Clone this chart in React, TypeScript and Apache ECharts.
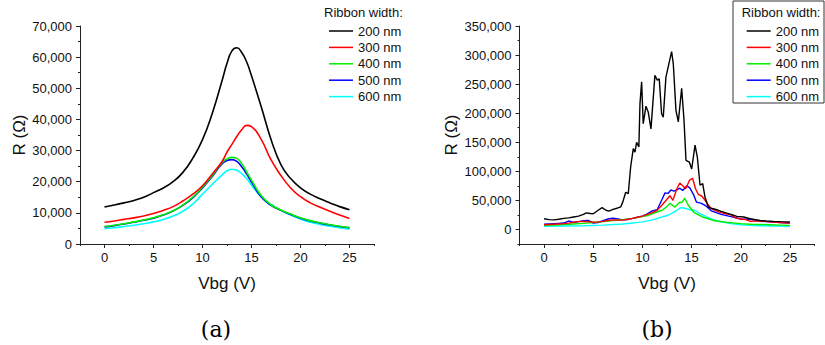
import React, { useEffect, useRef } from "react";
import * as echarts from "echarts";

// ---------- Data ----------
const seriesNames = ["200 nm", "300 nm", "400 nm", "500 nm", "600 nm"];
const seriesColors = ["#000000", "#ff0000", "#00ee00", "#0000ff", "#00ffff"];

// (a) smooth curves, common Vbg grid
const leftVbg = [0, 1, 2, 3, 4, 5, 6, 7, 8, 9, 10, 11, 12, 12.5, 13, 13.5, 14, 14.5, 15, 16, 17, 18, 19, 20, 21, 22, 23, 24, 25];
const leftR200 = [11900, 12500, 13200, 14000, 15000, 16500, 18000, 20000, 23000, 27500, 33500, 42000, 52500, 58000, 62000, 63000, 61500, 58500, 54000, 44000, 33500, 25500, 21000, 18000, 16000, 14500, 13200, 12000, 11000];
const leftR300 = [7000, 7400, 7900, 8400, 9000, 9800, 10800, 12000, 13800, 16000, 18700, 22500, 26500, 29500, 32000, 34500, 36700, 38100, 37700, 33500, 27000, 22000, 18000, 15200, 13200, 11800, 10500, 9300, 8200];
const leftR400 = [5600, 6000, 6500, 7100, 7700, 8400, 9400, 10700, 12500, 15000, 18300, 22000, 26200, 27300, 27800, 27500, 25800, 23200, 20500, 15500, 12600, 10900, 9600, 8400, 7500, 6800, 6200, 5700, 5300];
const leftR500 = [5500, 5900, 6400, 7000, 7600, 8300, 9300, 10600, 12400, 14800, 18000, 21700, 25800, 26800, 27100, 26500, 24800, 22500, 19900, 15100, 12400, 10800, 9500, 8300, 7400, 6700, 6100, 5600, 5200];
const leftR600 = [4900, 5200, 5600, 6000, 6500, 7100, 7900, 9000, 10500, 12800, 16000, 19200, 22200, 23500, 24000, 23700, 22600, 21000, 18900, 15100, 12700, 10800, 9300, 8000, 7000, 6300, 5700, 5200, 4800];

// (b) noisy curves
const rightVbg200 = [0, 0.5, 1, 1.5, 2, 2.5, 3, 3.5, 4, 4.3, 4.7, 5, 5.5, 5.9, 6.3, 6.6, 7, 7.5, 7.8, 8, 8.3, 8.56, 8.8, 9.07, 9.24, 9.41, 9.64, 9.75, 9.92, 10.08, 10.36, 10.59, 10.87, 11.27, 11.51, 11.71, 11.95, 12.12, 12.39, 12.73, 12.97, 13.14, 13.41, 13.65, 13.99, 14.23, 14.43, 14.77, 15.01, 15.35, 15.58, 15.86, 16.13, 16.36, 16.7, 17.1, 17.56, 18, 18.57, 19.1, 19.6, 20.3, 20.95, 21.5, 21.97, 22.6, 23.3, 24.1, 25];
const rightR200 = [18500, 17000, 16500, 17500, 19000, 20000, 21500, 23000, 26000, 28500, 27500, 27000, 33000, 37500, 33000, 31500, 34500, 37000, 39000, 47000, 64000, 61500, 107000, 139000, 133000, 150000, 142000, 216000, 254000, 182000, 212000, 202000, 173000, 265000, 257000, 259000, 199000, 193000, 262000, 288000, 306000, 285000, 205000, 185000, 243000, 188000, 119000, 116000, 104000, 145000, 125000, 76000, 79000, 56000, 38500, 36000, 34000, 31000, 28000, 25500, 22500, 21500, 18500, 17000, 15500, 14500, 14000, 13500, 13000];

const rightVbg300 = [0, 0.5, 1, 1.5, 2, 2.5, 3, 3.5, 4, 4.5, 5, 5.5, 6, 6.5, 7, 7.5, 8, 8.5, 9, 9.5, 10, 10.5, 11, 11.5, 12, 12.5, 12.8, 13.1, 13.5, 13.8, 14.1, 14.4, 14.8, 15.1, 15.4, 15.7, 16, 16.3, 16.7, 17, 17.5, 18, 18.5, 19, 19.5, 20, 20.5, 21, 22, 23, 24, 25];
const rightR300 = [8000, 8500, 9000, 9500, 10000, 11000, 12500, 13500, 14000, 13500, 12500, 13000, 14000, 15500, 16500, 16000, 16000, 17500, 19000, 21000, 23000, 26000, 29000, 33000, 42000, 52000, 58000, 50000, 70000, 80000, 75000, 70000, 85000, 88000, 70000, 60000, 58000, 52000, 42000, 36000, 32000, 29000, 27000, 25000, 20000, 18000, 17000, 14000, 15000, 13000, 12000, 11000];

const rightVbg400 = [0, 1, 2, 3, 4, 5, 6, 7, 8, 9, 10, 10.5, 11, 11.5, 12, 12.4, 12.8, 13.3, 13.8, 14, 14.3, 14.65, 15.2, 15.6, 16.2, 17.2, 18.5, 20, 21, 22, 23, 24, 25];
const rightR400 = [7000, 7500, 8500, 9500, 10500, 12000, 13500, 15500, 17000, 19000, 22000, 24000, 27000, 30000, 33000, 38000, 45000, 38500, 47000, 46000, 54000, 42000, 30000, 26000, 21000, 15500, 12500, 10000, 9000, 8500, 8000, 7500, 7000];

const rightVbg500 = [0, 0.5, 1, 1.5, 2, 2.5, 3, 3.5, 4, 4.5, 5, 5.5, 6, 6.5, 7, 7.5, 8, 8.5, 9, 9.5, 10, 10.5, 11, 11.5, 12, 12.3, 12.6, 12.9, 13.2, 13.5, 13.8, 14.1, 14.5, 14.8, 15.2, 15.5, 16, 16.5, 17, 17.5, 18, 19, 20, 21, 22, 23, 24, 25];
const rightR500 = [9000, 9500, 10000, 10500, 11000, 14500, 12000, 13500, 15000, 15500, 11000, 12000, 15000, 18000, 19500, 18000, 16500, 17000, 19000, 21000, 23000, 27000, 32000, 34000, 52000, 63000, 62000, 68000, 66000, 68000, 71000, 67000, 75000, 72000, 60000, 47000, 45000, 40000, 32000, 29000, 26000, 22000, 18000, 17500, 14000, 13000, 12000, 11000];

const rightVbg600 = [0, 2, 4, 6, 8, 9, 10, 11, 12, 12.5, 13, 13.5, 13.9, 14.3, 14.8, 15.3, 15.9, 16.5, 17, 18, 19, 20, 21, 22, 25];
const rightR600 = [5500, 6000, 6500, 7500, 9500, 11000, 13000, 16500, 21500, 24000, 28000, 33000, 37500, 36500, 34000, 33000, 27000, 22000, 18000, 13000, 10000, 8000, 7000, 6500, 5500];

const xMajor = [0, 5, 10, 15, 20, 25];
const xMinor = [-2.5, 2.5, 7.5, 12.5, 17.5, 22.5, 27.5];
const rightYMajor = [0, 50000, 100000, 150000, 200000, 250000, 300000, 350000];
const rightYMinor = [-25000, 25000, 75000, 125000, 175000, 225000, 275000, 325000];

const legendTitle = "Ribbon width:";
const xName = "Vbg (V)";
const yName = "R (\u03A9)";
const captions = ["(a)", "(b)"];

// ---------- Helpers ----------
const FONT = "'Liberation Sans', Arial, sans-serif";
const TXT = "#111";
const AX = "#222";

const zip = (xs: number[], ys: number[]) => xs.map((x, i) => [x, ys[i]]);
const fmt = (v: number) => v.toLocaleString("en-US");

export default function App() {
  const ref = useRef<HTMLDivElement>(null);

  useEffect(() => {
    document.body.style.margin = "0";
    if (!ref.current) return;
    const chart = echarts.init(ref.current, undefined, { renderer: "svg" });

    const leftData = [leftR200, leftR300, leftR400, leftR500, leftR600];
    const rightX = [rightVbg200, rightVbg300, rightVbg400, rightVbg500, rightVbg600];
    const rightY = [rightR200, rightR300, rightR400, rightR500, rightR600];

    const labelStyle = { color: TXT, fontFamily: FONT, fontSize: 13 };
    const nameStyle = { color: TXT, fontFamily: FONT, fontSize: 17 };

    const mainX = (gridIndex: number) => ({
      type: "value",
      gridIndex,
      position: "bottom",
      min: -2.5,
      max: 27.5,
      name: xName,
      nameLocation: "middle",
      nameGap: 31,
      nameTextStyle: nameStyle,
      splitLine: { show: false },
      axisLine: { show: true, onZero: false, lineStyle: { color: AX, width: 1 } },
      axisTick: { show: true, length: 4, customValues: xMajor, lineStyle: { color: AX } },
      axisLabel: { show: true, margin: 7, customValues: xMajor, ...labelStyle },
    });
    const minorX = (gridIndex: number) => ({
      type: "value",
      gridIndex,
      position: "bottom",
      min: -2.5,
      max: 27.5,
      splitLine: { show: false },
      axisLine: { show: false, onZero: false },
      axisTick: { show: true, length: 2, customValues: xMinor, lineStyle: { color: AX } },
      axisLabel: { show: false },
    });

    const legendCommon = {
      orient: "vertical",
      itemWidth: 24,
      itemHeight: 1.5,
      itemGap: 2.4,
      icon: "rect",
      selectedMode: false,
      textStyle: { color: TXT, fontFamily: FONT, fontSize: 13, lineHeight: 14 },
      data: seriesNames,
    };

    const series: any[] = [];
    seriesNames.forEach((name, i) => {
      series.push({
        type: "line",
        name,
        xAxisIndex: 0,
        yAxisIndex: 0,
        data: zip(leftVbg, leftData[i]),
        smooth: true,
        showSymbol: false,
        symbol: "none",
        lineStyle: { color: seriesColors[i], width: 1.6 },
        itemStyle: { color: seriesColors[i] },
        z: 10 - i,
      });
    });
    seriesNames.forEach((name, i) => {
      series.push({
        type: "line",
        name,
        xAxisIndex: 2,
        yAxisIndex: 1,
        data: zip(rightX[i], rightY[i]),
        smooth: false,
        showSymbol: false,
        symbol: "none",
        lineStyle: { color: seriesColors[i], width: 1.4 },
        itemStyle: { color: seriesColors[i] },
        z: 10 - i,
      });
    });

    chart.setOption({
      animation: false,
      backgroundColor: "#ffffff",
      grid: [
        { left: 80, top: 26, width: 294, height: 218 },
        { left: 519.5, top: 26, width: 295, height: 218 },
      ],
      xAxis: [mainX(0), minorX(0), mainX(1), minorX(1)],
      yAxis: [
        {
          type: "value",
          gridIndex: 0,
          position: "left",
          min: 0,
          max: 70000,
          interval: 10000,
          name: yName,
          nameLocation: "middle",
          nameGap: 52,
          nameTextStyle: nameStyle,
          splitLine: { show: false },
          axisLine: { show: true, onZero: false, lineStyle: { color: AX, width: 1 } },
          axisTick: { show: true, length: 4, lineStyle: { color: AX } },
          minorTick: { show: true, splitNumber: 2, length: 2, lineStyle: { color: AX } },
          axisLabel: { margin: 8, formatter: (v: number) => fmt(v), ...labelStyle },
        },
        {
          type: "value",
          gridIndex: 1,
          position: "left",
          min: -25000,
          max: 350000,
          name: yName,
          nameLocation: "middle",
          nameGap: 60,
          nameTextStyle: nameStyle,
          splitLine: { show: false },
          axisLine: { show: true, onZero: false, lineStyle: { color: AX, width: 1 } },
          axisTick: { show: true, length: 4, customValues: rightYMajor, lineStyle: { color: AX } },
          axisLabel: { margin: 8, customValues: rightYMajor, formatter: (v: number) => fmt(v), ...labelStyle },
        },
        {
          type: "value",
          gridIndex: 1,
          position: "left",
          min: -25000,
          max: 350000,
          splitLine: { show: false },
          axisLine: { show: false, onZero: false },
          axisTick: { show: true, length: 2, customValues: rightYMinor, lineStyle: { color: AX } },
          axisLabel: { show: false },
        },
      ],
      legend: [
        { ...legendCommon, left: 324, top: 19 },
        { ...legendCommon, left: 741.7, top: 19 },
      ],
      graphic: [
        {
          type: "rect",
          shape: { x: 733, y: 1, width: 91, height: 102 },
          style: { fill: "#ffffff", stroke: "#333", lineWidth: 1 },
          z: -1,
          silent: true,
        },
        {
          type: "text",
          x: 324,
          y: 12.5,
          style: { text: legendTitle, fill: TXT, font: `13px ${FONT}`, verticalAlign: "middle" },
        },
        {
          type: "text",
          x: 741.7,
          y: 12.5,
          style: { text: legendTitle, fill: TXT, font: `13px ${FONT}`, verticalAlign: "middle" },
        },
        {
          type: "text",
          x: 216,
          y: 329,
          style: { text: captions[0], fill: "#000", font: "22px 'DejaVu Serif', serif", align: "center", verticalAlign: "middle" },
        },
        {
          type: "text",
          x: 657,
          y: 329,
          style: { text: captions[1], fill: "#000", font: "22px 'DejaVu Serif', serif", align: "center", verticalAlign: "middle" },
        },
      ],
      series,
    });

    return () => chart.dispose();
  }, []);

  return <div ref={ref} style={{ width: 825, height: 345 }} />;
}
